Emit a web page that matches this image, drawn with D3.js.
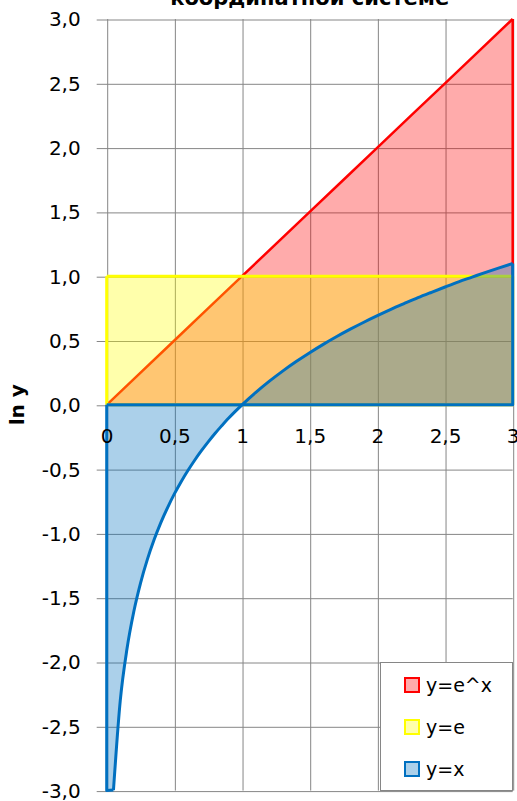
<!DOCTYPE html>
<html><head><meta charset="utf-8">
<script src="https://cdn.jsdelivr.net/npm/d3@7"></script>
<style>body{margin:0;background:#fff;overflow:hidden} svg{display:block}</style>
</head><body><svg id="c" width="517" height="801"></svg>
<script>
// ---- data ----
const titleText = "координатной системе";
const yAxisTitle = "ln y";
const xTicks = [0, 0.5, 1, 1.5, 2, 2.5, 3];
const xTickLabels = ["0", "0,5", "1", "1,5", "2", "2,5", "3"];
const yTicks = [-3, -2.5, -2, -1.5, -1, -0.5, 0, 0.5, 1, 1.5, 2, 2.5, 3];
const yTickLabels = ["-3,0", "-2,5", "-2,0", "-1,5", "-1,0", "-0,5", "0,0", "0,5", "1,0", "1,5", "2,0", "2,5", "3,0"];
const seriesNames = ["y=e^x", "y=e", "y=x"];
// ln(e^x)
const redX = [0, 0.5, 1, 1.5, 2, 2.5, 3];
const redV = [0, 0.5, 1, 1.5, 2, 2.5, 3];
// ln(e)
const yellowX = [0, 0.5, 1, 1.5, 2, 2.5, 3];
const yellowV = [1, 1, 1, 1, 1, 1, 1];
// ln(x); at x = 0 the series is cut at the bottom of the plot (-3)
const blueX = [0, 0.05, 0.1, 0.15, 0.2, 0.25, 0.3, 0.35, 0.4, 0.45, 0.5, 0.55, 0.6, 0.65, 0.7, 0.75, 0.8, 0.85, 0.9, 0.95, 1,
  1.1, 1.2, 1.3, 1.4, 1.5, 1.6, 1.7, 1.8, 1.9, 2, 2.1, 2.2, 2.3, 2.4, 2.5, 2.6, 2.7, 2.8, 2.9, 3];
const blueV = [-3, -2.996, -2.303, -1.897, -1.609, -1.386, -1.204, -1.050, -0.916, -0.799, -0.693, -0.598, -0.511, -0.431, -0.357, -0.288, -0.223, -0.163, -0.105, -0.051, 0,
  0.095, 0.182, 0.262, 0.336, 0.405, 0.470, 0.531, 0.588, 0.642, 0.693, 0.742, 0.788, 0.833, 0.875, 0.916, 0.956, 0.993, 1.030, 1.065, 1.099];

const colors = ["#FF0000", "#FFFF00", "#0070C0"];
const fillOpacity = 0.33;

// ---- layout ----
const svg = d3.select("#c");
const L = 106.7, R = 512.7, T = 19, B = 790.6;
const x = d3.scaleLinear().domain([0, 3]).range([L, R]);
const y = d3.scaleLinear().domain([-3, 3]).range([B, T]);
const font = "'DejaVu Sans', Verdana, sans-serif";
const gridColor = "#868686";

// grid (vertical)
const gx = svg.append("g").attr("transform", `translate(0.5,${T})`)
  .call(d3.axisBottom(x).tickValues(xTicks).tickSize(B - T).tickFormat(""));
gx.select(".domain").remove();
gx.selectAll("line").attr("stroke", gridColor);

// grid (horizontal) + y ticks + labels
const gy = svg.append("g").attr("transform", `translate(${R},0.5)`)
  .call(d3.axisLeft(y).tickValues(yTicks).tickSize(R - L + 10).tickPadding(16)
    .tickFormat((d, i) => yTickLabels[i]));
gy.select(".domain").remove();
gy.selectAll("line").attr("stroke", gridColor);
gy.selectAll("text").attr("font-family", font).attr("font-size", 20).attr("fill", "#000");

// series: first point joined straight (edge), the rest smoothed
const series = [
  { x: redX, v: redV },
  { x: yellowX, v: yellowV },
  { x: blueX, v: blueV }
];
const line = d3.line().curve(d3.curveMonotoneX).x(d => x(d.x)).y(d => y(d.v));
const widths = [2.5, 3, 3];
series.forEach((s, i) => {
  const pts = s.x.map((xx, k) => ({ x: xx, v: s.v[k] }));
  const first = pts[0], last = pts[pts.length - 1];
  const body = i < 2 ? pts : pts.slice(1);
  const top = line(body);
  const startEdge = `M${x(first.x)},${y(0)}L${x(first.x)},${y(first.v)}` +
    (body === pts ? "" : `L${x(body[0].x)},${y(body[0].v)}`);
  const endEdge = `M${x(last.x)},${y(last.v)}L${x(last.x)},${y(0)}L${x(first.x)},${y(0)}`;
  const fillPath = `M${x(first.x)},${y(0)}L${x(first.x)},${y(first.v)}` +
    "L" + top.slice(1) + `L${x(last.x)},${y(0)}Z`;
  svg.append("path").attr("d", fillPath)
    .attr("fill", colors[i]).attr("fill-opacity", fillOpacity);
  const g = svg.append("g").attr("fill", "none").attr("stroke", colors[i])
    .attr("stroke-width", widths[i]).attr("stroke-linejoin", "round");
  g.append("path").attr("d", startEdge + endEdge);
  g.append("path").attr("d", top);
});

// x labels
const gxl = svg.append("g").attr("transform", `translate(0,${y(0)})`)
  .call(d3.axisBottom(x).tickValues(xTicks).tickSize(0).tickPadding(24)
    .tickFormat((d, i) => xTickLabels[i]));
gxl.select(".domain").remove();
gxl.selectAll("text").attr("font-family", font).attr("font-size", 20).attr("fill", "#000");

// axis title
svg.append("text").attr("transform", `translate(24,${y(0)}) rotate(-90)`)
  .attr("text-anchor", "middle").attr("font-family", font).attr("font-weight", "bold")
  .attr("font-size", 20).text(yAxisTitle);

// chart title (cut off at top)
svg.append("text").attr("x", (L + R) / 2).attr("y", 5).attr("text-anchor", "middle")
  .attr("font-family", font).attr("font-weight", "bold").attr("font-size", 21).text(titleText);

// legend
const lg = svg.append("g");
lg.append("rect").attr("x", 380.5).attr("y", 662.5).attr("width", 132).attr("height", 128)
  .attr("fill", "#fff").attr("stroke", gridColor);
seriesNames.forEach((n, i) => {
  const cy = 685 + i * 42;
  lg.append("rect").attr("x", 405).attr("y", cy - 7).attr("width", 14).attr("height", 14)
    .attr("fill", d3.interpolateRgb("#fff", colors[i])(fillOpacity))
    .attr("stroke", colors[i]).attr("stroke-width", 2);
  lg.append("text").attr("x", 426).attr("y", cy).attr("dy", "0.35em")
    .attr("font-family", font).attr("font-size", 19).text(n);
});
</script></body></html>
